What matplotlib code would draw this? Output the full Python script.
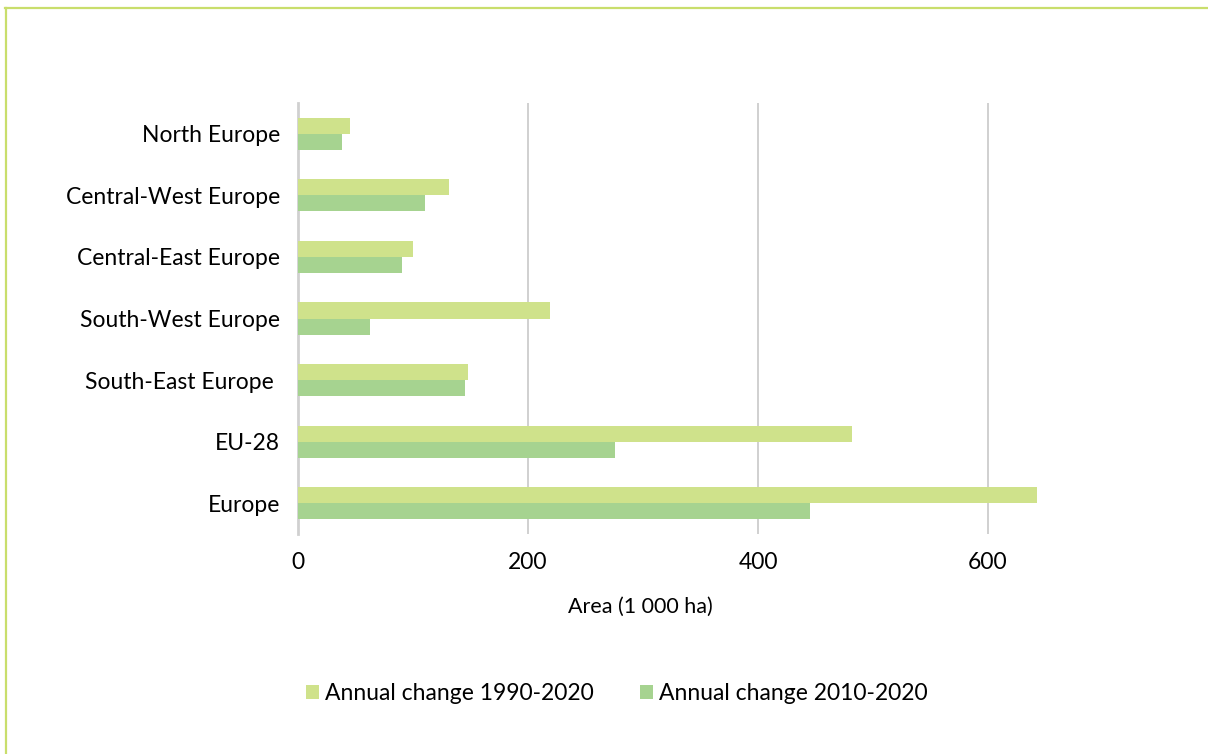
import matplotlib.pyplot as plt
import numpy as np
from matplotlib.lines import Line2D

plt.rcParams['font.family'] = ['Lato', 'DejaVu Sans']

regions = ["North Europe", "Central-West Europe", "Central-East Europe",
           "South-West Europe", "South-East Europe ", "EU-28", "Europe"]
change_1990_2020 = [45, 131, 100, 219, 148, 482, 643]
change_2010_2020 = [38, 110, 90, 63, 145, 276, 445]
series_labels = ["Annual change 1990-2020", "Annual change 2010-2020"]
xticks = [0, 200, 400, 600]

LIGHT = "#cfe28b"
DARK = "#a6d390"

W, H = 1208, 754
fig = plt.figure(figsize=(W / 100, H / 100), dpi=100)
ax = fig.add_axes([298 / W, 220 / H, 805 / W, 431 / H])

y = np.arange(len(regions))
h = 0.26
ax.barh(y - h / 2, change_1990_2020, height=h, color=LIGHT, label=series_labels[0], zorder=3)
ax.barh(y + h / 2, change_2010_2020, height=h, color=DARK, label=series_labels[1], zorder=3)

ax.set_ylim(len(regions) - 0.5, -0.5)
ax.set_xlim(0, 700)
ax.set_yticks(y)
ax.set_yticklabels(regions, fontsize=16.5)
ax.set_xticks(xticks)
ax.set_xticklabels([str(t) for t in xticks], fontsize=16.5)
ax.tick_params(axis="both", length=0, colors="#000000")
ax.tick_params(axis="y", pad=13)
ax.tick_params(axis="x", pad=13)

ax.grid(axis="x", color="#d0d0d0", linewidth=1.4, zorder=0)
for s in ["top", "right", "bottom"]:
    ax.spines[s].set_visible(False)
ax.spines["left"].set_color("#d0d0d0")
ax.spines["left"].set_linewidth(2)

ax.set_xlabel("Area (1 000 ha)", fontsize=15.5)
ax.xaxis.set_label_coords(0.425, -0.145)

fig.legend(loc="center", bbox_to_anchor=(617 / W, 1 - 694 / H), ncol=2,
           frameon=False, fontsize=16.5, handlelength=0.55, handleheight=0.55,
           handletextpad=0.3, columnspacing=2.0)

frame_color = "#c9de6c"
fig.add_artist(Line2D([5 / W, 1], [1 - 7.5 / H, 1 - 7.5 / H], color=frame_color,
                      linewidth=1.6, transform=fig.transFigure))
fig.add_artist(Line2D([6 / W, 6 / W], [0, 1 - 7.5 / H], color=frame_color,
                      linewidth=1.6, transform=fig.transFigure))

fig.savefig("out.png", dpi=100)
